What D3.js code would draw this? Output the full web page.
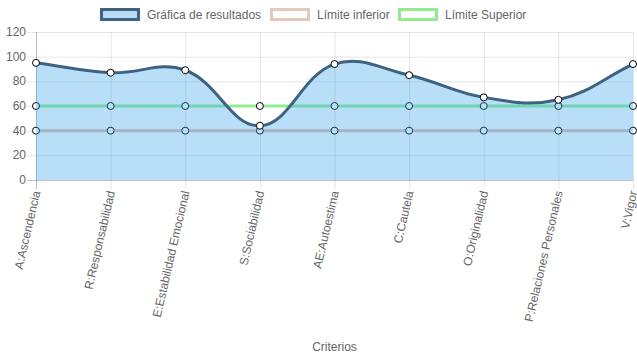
<!DOCTYPE html>
<html>
<head>
<meta charset="utf-8">
<script src="https://cdn.jsdelivr.net/npm/d3@7/dist/d3.min.js"></script>
<style>
  html, body { margin: 0; padding: 0; background: #fff; }
  svg { display: block; }
  text { font-family: "Liberation Sans", Arial, Helvetica, sans-serif; fill: #666; font-size: 12px; }
</style>
</head>
<body>
<svg id="chart" width="637" height="359"></svg>
<script>
const categories = ["A:Ascendencia", "R:Responsabilidad", "E:Estabilidad Emocional", "S:Sociabilidad",
  "AE:Autoestima", "C:Cautela", "O:Originalidad", "P:Relaciones Personales", "V:Vigor"];
const resultados = [95, 87, 89, 44, 94, 85, 67, 65, 94];
const limiteInferior = [40, 40, 40, 40, 40, 40, 40, 40, 40];
const limiteSuperior = [60, 60, 60, 60, 60, 60, 60, 60, 60];
const yTicks = [0, 20, 40, 60, 80, 100, 120];
const seriesNames = ["Gráfica de resultados", "Límite inferior", "Límite Superior"];
const axisTitle = "Criterios";

(function () {
const pLeft = 36, pRight = 633, pTop = 32, pBottom = 180;
const svg = d3.select("#chart");

const x = d3.scalePoint().domain(categories).range([pLeft, pRight]);
const y = d3.scaleLinear().domain([0, 120]).range([pBottom, pTop]);

// grid
const grid = svg.append("g");
yTicks.forEach(t => {
  grid.append("line")
    .attr("x1", pLeft - 9).attr("x2", pRight)
    .attr("y1", y(t) + 0.5).attr("y2", y(t) + 0.5)
    .attr("stroke", t === 0 ? "rgba(0,0,0,0.25)" : "rgba(0,0,0,0.1)")
    .attr("stroke-width", 1);
});
categories.forEach(c => {
  grid.append("line")
    .attr("x1", x(c) + 0.5).attr("x2", x(c) + 0.5)
    .attr("y1", pTop).attr("y2", pBottom + 9)
    .attr("stroke", c === categories[0] ? "rgba(0,0,0,0.25)" : "rgba(0,0,0,0.1)")
    .attr("stroke-width", 1);
});

// y labels
svg.append("g").selectAll("text").data(yTicks).join("text")
  .attr("x", pLeft - 10).attr("y", d => y(d))
  .attr("text-anchor", "end").attr("dominant-baseline", "central")
  .text(d => d);

// x labels
svg.append("g").selectAll("text").data(categories).join("text")
  .attr("text-anchor", "end").attr("dominant-baseline", "central")
  .attr("transform", d => `translate(${x(d) + 0.5},${pBottom + 11}) rotate(-77)`)
  .text(d => d);

svg.append("text").attr("x", (pLeft + pRight) / 2).attr("y", 347)
  .attr("text-anchor", "middle").attr("dominant-baseline", "central")
  .text(axisTitle);

// Chart.js-like spline
function splinePts(vals) {
  const pts = vals.map((v, i) => ({ x: x(categories[i]), y: y(v) }));
  const t = 0.4;
  pts.forEach((p, i) => {
    const a = pts[i - 1] || p, b = pts[i + 1] || p;
    const d01 = Math.hypot(p.x - a.x, p.y - a.y);
    const d12 = Math.hypot(b.x - p.x, b.y - p.y);
    let s01 = d01 / (d01 + d12), s12 = d12 / (d01 + d12);
    if (isNaN(s01)) s01 = 0; if (isNaN(s12)) s12 = 0;
    const fa = t * s01, fb = t * s12;
    p.cpx1 = p.x - fa * (b.x - a.x); p.cpy1 = p.y - fa * (b.y - a.y);
    p.cpx2 = p.x + fb * (b.x - a.x); p.cpy2 = p.y + fb * (b.y - a.y);
    p.cpy1 = Math.max(pTop, Math.min(pBottom, p.cpy1));
    p.cpy2 = Math.max(pTop, Math.min(pBottom, p.cpy2));
  });
  return pts;
}
function linePath(pts) {
  const p = d3.path();
  p.moveTo(pts[0].x, pts[0].y);
  for (let i = 1; i < pts.length; i++) {
    const a = pts[i - 1], b = pts[i];
    p.bezierCurveTo(a.cpx2, a.cpy2, b.cpx1, b.cpy1, b.x, b.y);
  }
  return p.toString();
}

function drawSeries(vals, opts) {
  const pts = splinePts(vals);
  const g = svg.append("g");
  if (opts.fill) {
    g.append("path")
      .attr("d", linePath(pts) + `L${pts[pts.length - 1].x},${y(0)}L${pts[0].x},${y(0)}Z`)
      .attr("fill", opts.fill);
  }
  g.append("path").attr("d", linePath(pts)).attr("fill", "none")
    .attr("stroke", opts.stroke).attr("stroke-width", 3);
  g.selectAll("circle").data(pts).join("circle")
    .attr("cx", d => d.x).attr("cy", d => d.y).attr("r", 3.5)
    .attr("fill", "#fff").attr("stroke", "#000").attr("stroke-width", 1);
}

drawSeries(limiteSuperior, { stroke: "#90ee90" });
drawSeries(limiteInferior, { stroke: "#e2bcb2" });
drawSeries(resultados, { stroke: "#3e6282", fill: "rgba(54,162,235,0.35)" });

// legend
const legend = [
  { name: seriesNames[0], x: 100, fill: "#b9dbf7", stroke: "#3e6282" },
  { name: seriesNames[1], x: 270, fill: "#fff", stroke: "#e6c8b8" },
  { name: seriesNames[2], x: 398, fill: "#fff", stroke: "#90ee90" }
];
legend.forEach(l => {
  svg.append("rect").attr("x", l.x + 1.5).attr("y", 9.5).attr("width", 37).attr("height", 10)
    .attr("fill", l.fill).attr("stroke", l.stroke).attr("stroke-width", 3);
  svg.append("text").attr("x", l.x + 47).attr("y", 15)
    .attr("dominant-baseline", "central").text(l.name);
});
})();
</script>
</body>
</html>
